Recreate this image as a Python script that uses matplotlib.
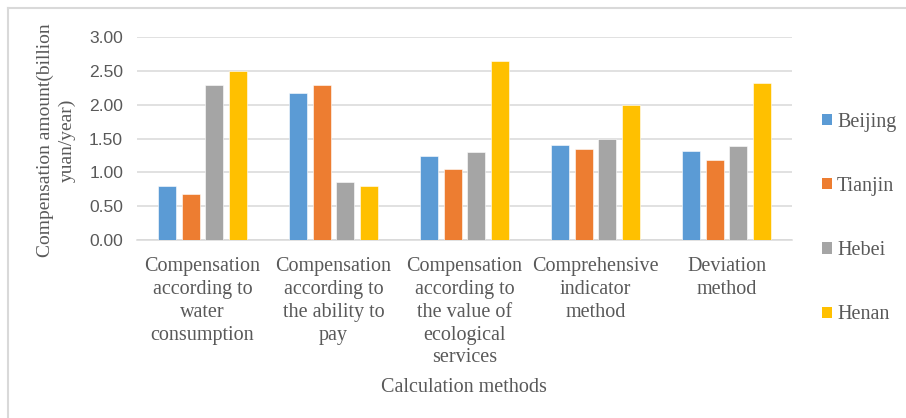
import numpy as np
import matplotlib.pyplot as plt
from matplotlib.lines import Line2D
from matplotlib.patches import Patch

# compensation amount by calculation method (billion yuan/year)
methods = [
    "Compensation\naccording to\nwater\nconsumption",
    "Compensation\naccording to\nthe ability to\npay",
    "Compensation\naccording to\nthe value of\necological\nservices",
    "Comprehensive\nindicator\nmethod",
    "Deviation\nmethod",
]
regions = ["Beijing", "Tianjin", "Hebei", "Henan"]
beijing = [0.80, 2.18, 1.24, 1.40, 1.31]
tianjin = [0.68, 2.30, 1.05, 1.34, 1.18]
hebei = [2.30, 0.86, 1.30, 1.49, 1.39]
henan = [2.50, 0.80, 2.65, 2.00, 2.33]
yticks = [0.0, 0.5, 1.0, 1.5, 2.0, 2.5, 3.0]

colors = ["#5B9BD5", "#ED7D31", "#A5A5A5", "#FFC000"]
text_col = "#595959"
grid_col = "#D9D9D9"
serif = "Liberation Serif"
sans = "Liberation Sans"

W, H = 906, 418
fig = plt.figure(figsize=(W / 100, H / 100), dpi=100)
ax = fig.add_axes([137 / W, 1 - 240 / H, (792 - 137) / W, (240 - 37.3) / H])

x = np.arange(len(methods))
step = 0.1794
width = 0.141
for j, (vals, name) in enumerate(zip([beijing, tianjin, hebei, henan], regions)):
    ax.bar(x + (j - 1.5) * step, vals, width, color=colors[j], label=name,
           edgecolor="white", linewidth=0.4, zorder=3)

ax.set_xlim(-0.5, len(methods) - 0.5)
ax.set_ylim(0, 3.0)
ax.set_yticks(yticks)
ax.set_yticklabels([f"{v:.2f}" for v in yticks], fontfamily=sans, fontsize=12.6, color=text_col)
ax.set_xticks(x)
ax.set_xticklabels(methods, fontfamily=serif, fontsize=14.5, color=text_col, linespacing=1.27)
ax.tick_params(axis="y", length=0, pad=10)
ax.tick_params(axis="x", length=0, pad=12.5)
ax.yaxis.grid(True, color=grid_col, linewidth=1.1, zorder=0)
for s in ["top", "right", "left"]:
    ax.spines[s].set_visible(False)
ax.spines["bottom"].set_color(grid_col)
ax.spines["bottom"].set_linewidth(1.1)

fig.text(464 / W, 1 - 388 / H, "Calculation methods", fontfamily=serif, fontsize=14.5,
         color=text_col, ha="center", va="center")
fig.text(56 / W, 1 - 140 / H, "Compensation amount(billion\nyuan/year)", fontfamily=serif,
         fontsize=14, color=text_col, rotation=90, ha="center", va="center",
         multialignment="center", linespacing=1.35)

handles = [Patch(facecolor=c, edgecolor="none") for c in colors]
fig.legend(handles, regions, loc="center left", bbox_to_anchor=(822 / W, 1 - 218.5 / H),
           frameon=False, prop={"family": serif, "size": 14.5}, labelcolor=text_col,
           handlelength=0.5, handleheight=0.5, handletextpad=0.25, labelspacing=2.25,
           borderpad=0, borderaxespad=0)

# light frame around the chart area (left and top edges)
fig.add_artist(Line2D([8 / W, 8 / W], [0, 1 - 8 / H], transform=fig.transFigure,
                      color=grid_col, linewidth=1.5))
fig.add_artist(Line2D([8 / W, 1], [1 - 8 / H, 1 - 8 / H], transform=fig.transFigure,
                      color=grid_col, linewidth=1.5))

fig.savefig("out.png", dpi=100)
